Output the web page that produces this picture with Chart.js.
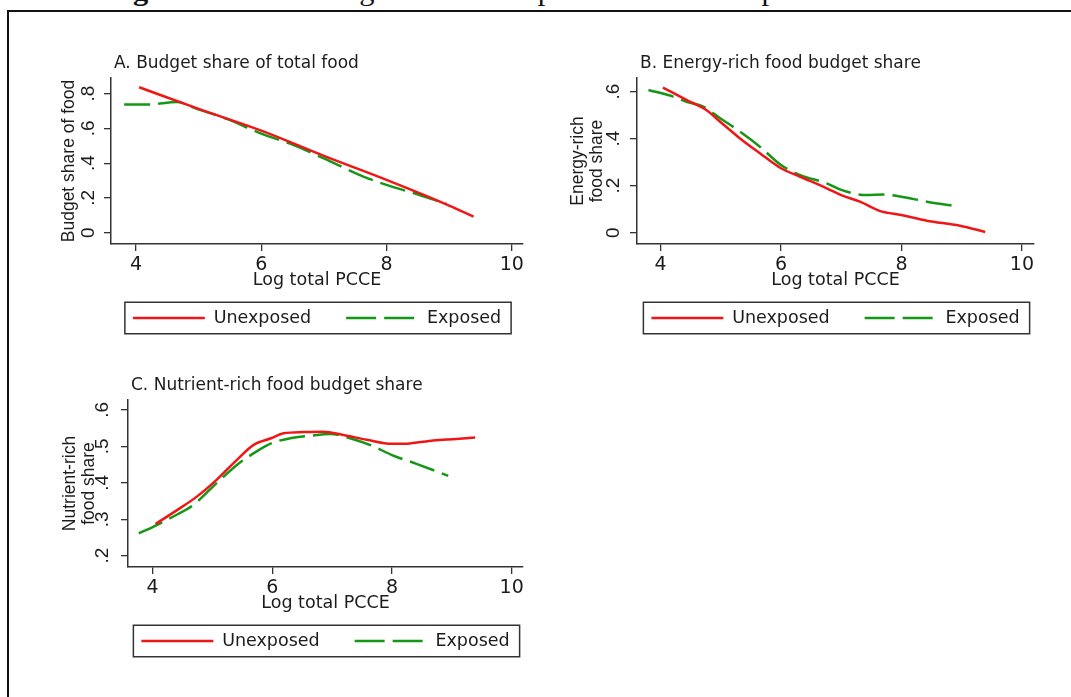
<!DOCTYPE html>
<html>
<head>
<meta charset="utf-8">
<script src="https://cdn.jsdelivr.net/npm/chart.js@4.4.1/dist/chart.umd.min.js"></script>
<style>
html, body { margin: 0; padding: 0; background: #fff; }
body { position: relative; width: 1071px; height: 697px; overflow: hidden; }
#frame { position: absolute; left: 7px; top: 10px; width: 1100px; height: 740px; border: 2.5px solid #111; box-sizing: border-box; }
.cap { position: absolute; top: -21.6px; font-family: "Liberation Serif", serif; font-size: 27px; line-height: 27px; transform: scaleX(1.13); transform-origin: 0 0; white-space: nowrap; color: #111; }
canvas { position: absolute; }
</style>
</head>
<body>
<div class="cap" style="left:106px;font-weight:bold">Figure 4.</div>
<div class="cap" style="left:243px">Food budget share of exposed versus unexposed households</div>
<div id="frame"></div>
<canvas id="chartA" width="490" height="345" style="left:50px;top:40px;width:490px;height:345px"></canvas>
<canvas id="chartB" width="490" height="345" style="left:560px;top:40px;width:490px;height:345px"></canvas>
<canvas id="chartC" width="490" height="345" style="left:50px;top:362px;width:490px;height:345px"></canvas>
<script>
// x values: log total PCCE, y values: budget shares
var xTicks = [4, 6, 8, 10];

// A. Budget share of total food
var aUnexpX = [4.05, 5.0, 6.0, 7.0, 8.0, 9.0, 9.39];
var aUnexpY = [0.837, 0.712, 0.587, 0.442, 0.304, 0.156, 0.092];
var aExpX = [3.81, 4.22, 4.65, 4.97, 5.45, 6.0, 6.46, 7.0, 7.63, 8.0, 8.48, 8.96];
var aExpY = [0.737, 0.738, 0.752, 0.712, 0.655, 0.570, 0.512, 0.427, 0.323, 0.275, 0.223, 0.165];
var aYTicks = [0, 0.2, 0.4, 0.6, 0.8];

// B. Energy-rich food budget share
var bUnexpX = [4.04, 4.43, 4.76, 4.99, 5.32, 5.65, 6.0, 6.32, 6.76, 7.0, 7.31, 7.65, 8.0, 8.42, 8.97, 9.39];
var bUnexpY = [0.617, 0.565, 0.522, 0.472, 0.401, 0.338, 0.274, 0.238, 0.189, 0.160, 0.132, 0.092, 0.075, 0.051, 0.030, 0.003];
var bExpX = [3.80, 4.21, 4.43, 4.71, 4.99, 5.32, 5.65, 6.0, 6.32, 6.76, 7.0, 7.42, 7.70, 8.0, 8.42, 8.95];
var bExpY = [0.607, 0.579, 0.557, 0.536, 0.487, 0.430, 0.366, 0.288, 0.245, 0.210, 0.182, 0.160, 0.163, 0.153, 0.132, 0.111];
var bYTicks = [0, 0.2, 0.4, 0.6];

// C. Nutrient-rich food budget share
var cUnexpX = [4.05, 4.41, 4.74, 5.07, 5.41, 5.69, 5.98, 6.19, 6.52, 6.85, 7.19, 7.58, 8.0, 8.30, 8.69, 9.08, 9.39];
var cUnexpY = [0.287, 0.325, 0.362, 0.408, 0.463, 0.504, 0.522, 0.536, 0.539, 0.540, 0.531, 0.518, 0.507, 0.508, 0.516, 0.520, 0.524];
var cExpX = [3.77, 4.07, 4.41, 4.68, 5.07, 5.41, 5.74, 5.98, 6.30, 6.63, 6.97, 7.30, 7.69, 8.0, 8.41, 8.94];
var cExpY = [0.261, 0.284, 0.313, 0.339, 0.399, 0.449, 0.486, 0.508, 0.522, 0.529, 0.534, 0.522, 0.500, 0.476, 0.452, 0.419];
var cYTicks = [0.2, 0.3, 0.4, 0.5, 0.6];

var red = 'rgb(240,22,22)';
var green = 'rgb(22,150,22)';
var ink = '#1c1c1c';

function pts(xs, ys) {
    return xs.map(function (x, i) { return { x: x, y: ys[i] }; });
}

function stataNum(v) {
    if (v === 0) return '0';
    return String(v).replace(/^0/, '');
}

// moves title / legend into place and draws the box round the legend
var panelBits = {
    id: 'panelBits',
    afterLayout: function (chart) {
        var a = chart.chartArea;
        var t = chart.titleBlock;
        t.left = a.left + 3;
        t.right = chart.width;
        var lg = chart.legend;
        var lab = lg.options.labels;
        var shift = (a.left + a.right) / 2 - (lg.left + lg.right) / 2;
        lg.left += shift;
        lg.right += shift;
        lg.top = a.bottom + 74 - lab.padding - lab.font.size / 2;
    },
    afterDraw: function (chart) {
        var hb = chart.legend.legendHitBoxes;
        if (!hb || !hb.length) return;
        var first = hb[0], last = hb[hb.length - 1];
        var ctx = chart.ctx;
        ctx.save();
        ctx.strokeStyle = '#333';
        ctx.lineWidth = 1.5;
        ctx.strokeRect(first.left - 8, first.top - 7, last.left + last.width - first.left + 18, first.height + 14);
        ctx.restore();
    }
};

function makePanel(id, title, yTitle, unexp, exp, yTicks, yMin, yMax, look) {
    var ctx = document.getElementById(id).getContext('2d');
    return new Chart(ctx, {
        type: 'line',
        data: {
            datasets: [
                {
                    label: 'Unexposed',
                    data: unexp,
                    borderColor: red,
                    backgroundColor: red,
                    borderWidth: 2.5,
                    pointRadius: 0,
                    cubicInterpolationMode: 'monotone',
                    fill: false
                },
                {
                    label: 'Exposed',
                    data: exp,
                    borderColor: green,
                    backgroundColor: green,
                    borderWidth: 2.5,
                    borderDash: [26, 8],
                    pointRadius: 0,
                    cubicInterpolationMode: 'monotone',
                    fill: false
                }
            ]
        },
        options: {
            responsive: false,
            animation: false,
            events: [],
            layout: { padding: { left: 0, right: look.right, top: 0, bottom: look.bottom } },
            plugins: {
                title: {
                    display: true,
                    text: title,
                    align: 'start',
                    color: ink,
                    font: { family: 'DejaVu Sans', size: 17, weight: 'normal' },
                    padding: { top: 13.3, bottom: 4.3 }
                },
                legend: {
                    position: 'bottom',
                    labels: {
                        usePointStyle: true,
                        pointStyle: 'line',
                        pointStyleWidth: 72,
                        padding: 35,
                        color: ink,
                        font: { family: 'DejaVu Sans', size: 17.5 },
                        generateLabels: function (chart) {
                            var items = Chart.defaults.plugins.legend.labels.generateLabels(chart);
                            items.forEach(function (it) {
                                var ds = chart.data.datasets[it.datasetIndex];
                                it.strokeStyle = ds.borderColor;
                                it.lineWidth = 2.5;
                                it.lineDash = it.datasetIndex === 1 ? [30, 8] : [];
                            });
                            return items;
                        }
                    }
                },
                tooltip: { enabled: false }
            },
            scales: {
                x: {
                    type: 'linear',
                    min: look.xMin,
                    max: look.xMax,
                    afterBuildTicks: function (s) {
                        s.ticks = xTicks.map(function (v) { return { value: v }; });
                    },
                    afterFit: function (s) { s.height = 50; },
                    grid: { display: true, drawOnChartArea: false, drawTicks: true, tickLength: 7, color: '#333', lineWidth: 1.3 },
                    border: { display: true, color: '#333', width: 1.5 },
                    ticks: {
                        padding: 3,
                        color: ink,
                        font: { family: 'DejaVu Sans', size: 19 },
                        callback: function (v) { return String(v); }
                    },
                    title: {
                        display: true,
                        text: 'Log total PCCE',
                        color: ink,
                        font: { family: 'DejaVu Sans', size: 17.5 },
                        padding: { top: 0, bottom: 3.5 }
                    }
                },
                y: {
                    type: 'linear',
                    min: yMin,
                    max: yMax,
                    afterBuildTicks: function (s) {
                        s.ticks = yTicks.map(function (v) { return { value: v }; });
                    },
                    afterFit: function (s) { s.width = look.yWidth; },
                    grid: { display: true, drawOnChartArea: false, drawTicks: true, tickLength: 7, color: '#333', lineWidth: 1.3 },
                    border: { display: true, color: '#333', width: 1.5 },
                    ticks: {
                        minRotation: 90,
                        maxRotation: 90,
                        crossAlign: 'center',
                        padding: look.tickPad,
                        color: ink,
                        font: { family: 'Liberation Sans', size: 19 },
                        callback: function (v) { return stataNum(v); }
                    },
                    title: {
                        display: true,
                        text: yTitle,
                        color: ink,
                        font: { family: 'Liberation Sans', size: 17.5, lineHeight: 1.12 },
                        padding: { top: look.titlePad, bottom: 0 }
                    }
                }
            }
        },
        plugins: [panelBits]
    });
}

window.onload = function () {
    makePanel('chartA', 'A. Budget share of total food', 'Budget share of food',
        pts(aUnexpX, aUnexpY), pts(aExpX, aExpY), aYTicks, -0.065, 0.89,
        { right: 17, bottom: 28.5, yWidth: 61, tickPad: 7, titlePad: 9, xMin: 3.6, xMax: 10.18 });

    makePanel('chartB', 'B. Energy-rich food budget share', ['Energy-rich', 'food share'],
        pts(bUnexpX, bUnexpY), pts(bExpX, bExpY), bYTicks, -0.048, 0.658,
        { right: 16, bottom: 28.5, yWidth: 77, tickPad: 8, titlePad: 8, xMin: 3.61, xMax: 10.2 });

    makePanel('chartC', 'C. Nutrient-rich food budget share', ['Nutrient-rich', 'food share'],
        pts(cUnexpX, cUnexpY), pts(cExpX, cExpY), cYTicks, 0.169, 0.627,
        { right: 17, bottom: 27.5, yWidth: 78, tickPad: 10, titlePad: 10, xMin: 3.59, xMax: 10.19 });
};
</script>
</body>
</html>
